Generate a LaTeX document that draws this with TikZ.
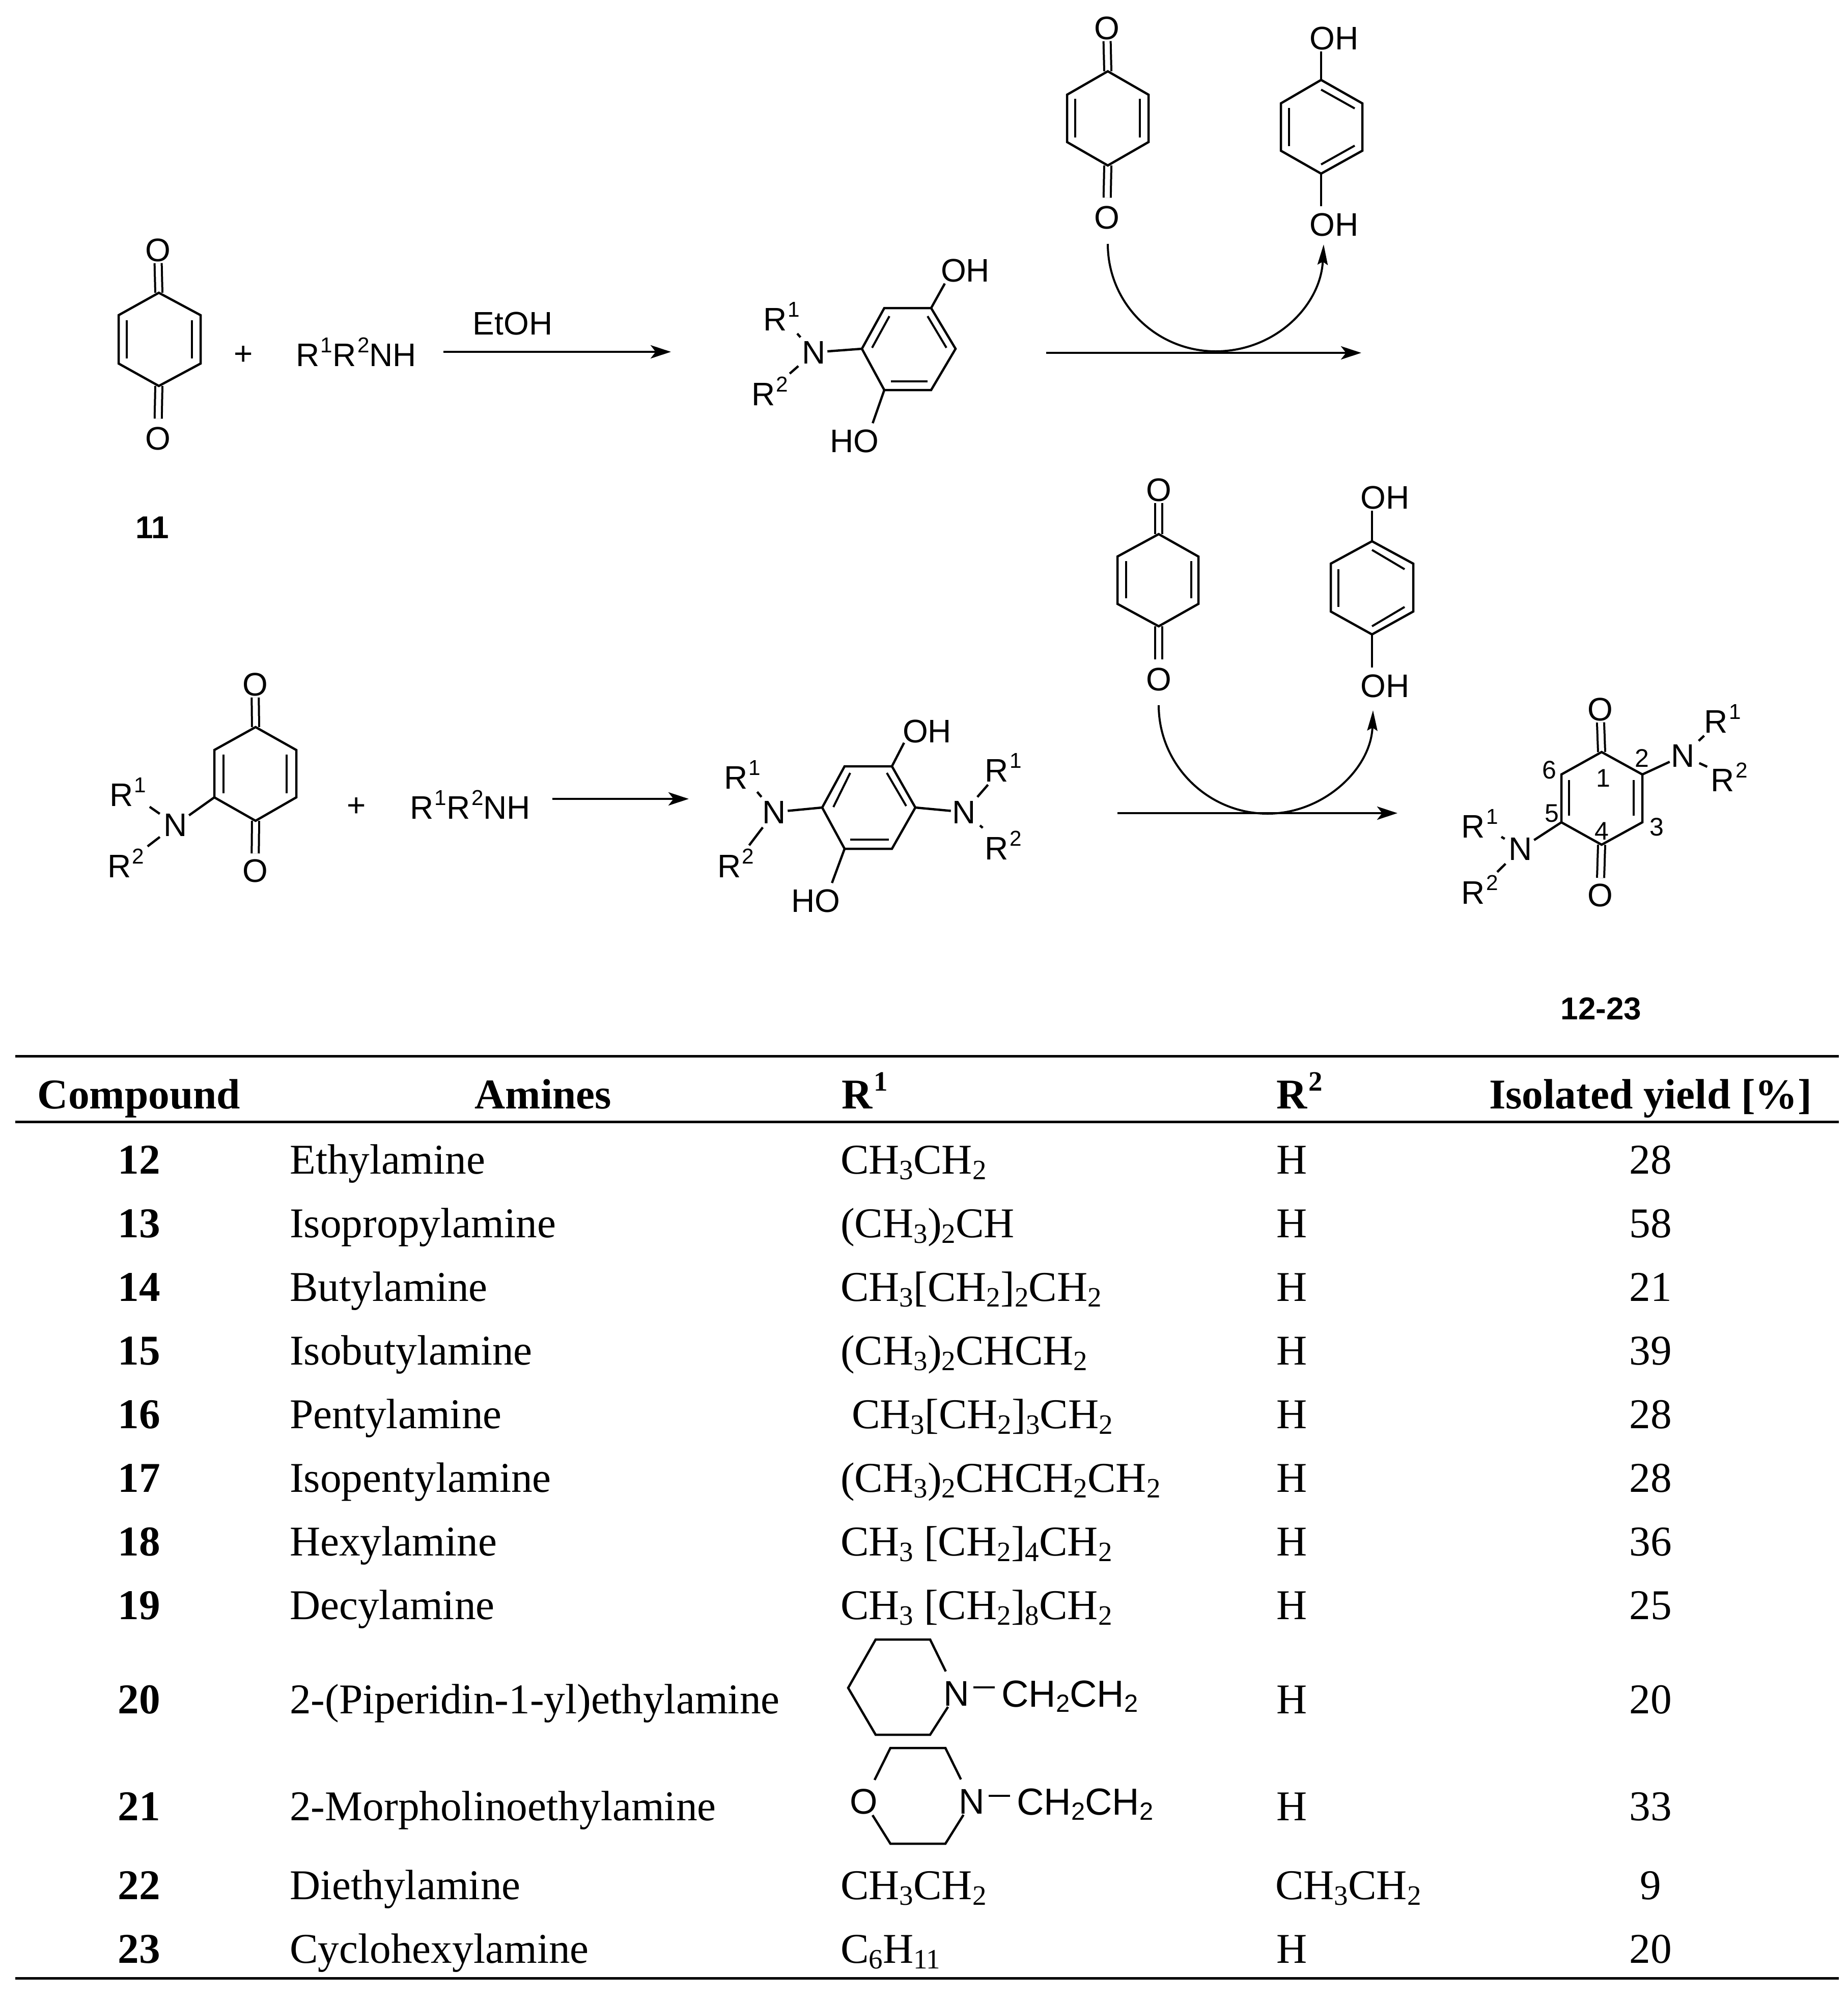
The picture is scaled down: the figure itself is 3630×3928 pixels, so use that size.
\documentclass[tikz,border=0pt]{standalone}
\usepackage{fontspec}
\setmainfont{Liberation Serif}
\setsansfont{Liberation Sans}
\usetikzlibrary{arrows.meta}
\makeatletter
\newcommand{\lo}[1]{\raisebox{-0.14em}{\fontsize{\strip@pt\dimexpr0.66\dimexpr\f@size pt\relax\relax}{1}\selectfont #1}}
\newcommand{\hi}[1]{\kern.04em\raisebox{.42em}{\fontsize{\strip@pt\dimexpr0.66\dimexpr\f@size pt\relax\relax}{1}\selectfont #1}}
\makeatother

\begin{document}
\begin{tikzpicture}[x=1pt,y=-1pt,
    bond/.style={line width=4.5pt},
    rbond/.style={bond,shorten <=6pt,shorten >=4pt},
    inner/.style={line width=4pt},
    dbond/.style={line width=4pt,double,double distance=10pt},
    rxn/.style={line width=4.5pt,-{Stealth[length=40pt,width=26pt,inset=10pt]}},
    swing/.style={line width=4pt,-{Stealth[length=40pt,width=20pt,inset=6pt]}},
    rule/.style={line width=5pt},
    lab/.style={font=\sffamily\fontsize{64}{70}\selectfont,inner sep=3pt},
    rlab/.style={lab,anchor=base west},
    locant/.style={font=\sffamily\fontsize{50}{56}\selectfont,inner sep=0pt},
    num/.style={font=\sffamily\bfseries\fontsize{62}{66}\selectfont,inner sep=0pt},
    big/.style={font=\sffamily\fontsize{70}{78}\selectfont,inner sep=2pt},
    sub/.style={font=\sffamily\fontsize{74}{78}\selectfont,anchor=base west,inner sep=0pt},
    tabl/.style={font=\fontsize{83.3}{90}\selectfont,anchor=base west,inner sep=0pt},
    tabc/.style={font=\fontsize{83.3}{90}\selectfont,anchor=base,inner sep=0pt},
    tabh/.style={font=\bfseries\fontsize{83.3}{90}\selectfont,anchor=base,inner sep=0pt}]
  \useasboundingbox (0,0) rectangle (3630,3928);

  \node[lab] (O1) at (310,491) {O};
  \node[lab] (O2) at (310,861) {O};
  \coordinate (A1) at (312,575);
  \coordinate (A4) at (312,758);
  \draw[dbond] (O1) -- (A1);
  \draw[dbond,shorten <=13pt] (O2) -- (A4);
  \draw[bond] (A1) -- (394,619) -- (394,714) -- (A4) -- (233,714) -- (233,619) -- cycle;
  \draw[inner] (249,629) -- (249,704);
  \draw[inner] (377,629) -- (377,704);
  \node[lab] (plus1) at (478,698) {+};
  \node[rlab] (amine1) at (578,719) {R\hi{1}R\hi{2}NH};
  \node[num] (cpd11) at (299,1036) {11};
  \coordinate (S1) at (871,691);
  \coordinate (E1) at (1318,691);
  \draw[rxn] (S1) -- (E1);
  \node[lab] (etoh) at (1007,635) {EtOH};

  \node[lab] (N1) at (1599,692) {N};
  \node[rlab] (R11) at (1496,649) {R\hi{1}};
  \node[rlab] (R12) at (1473,796) {R\hi{2}};
  \node[lab] (OH1) at (1896,531) {OH};
  \node[lab] (HO1) at (1678,866) {HO};
  \coordinate (B1) at (1693,685);
  \coordinate (B2) at (1737,605);
  \coordinate (B3) at (1829,605);
  \coordinate (B4) at (1877,685);
  \coordinate (B5) at (1829,766);
  \coordinate (B6) at (1737,766);
  \draw[bond] (B1) -- (B2) -- (B3) -- (B4) -- (B5) -- (B6) -- cycle;
  \draw[inner] (1713,683) -- (1747,621);
  \draw[inner] (1822,621) -- (1859,683);
  \draw[inner] (1750,749) -- (1822,749);
  \draw[bond] (N1) -- (B1);
  \draw[rbond] (N1) -- (R11);
  \draw[rbond] (N1) -- (R12);
  \draw[bond] (B3) -- ([xshift=11pt]OH1.south west);
  \draw[bond] (B6) -- ([xshift=-15pt,yshift=9pt]HO1.north east);

  \node[lab] (O3) at (2174,55) {O};
  \node[lab] (O4) at (2174,427) {O};
  \coordinate (C1) at (2176,140);
  \coordinate (C4) at (2176,325);
  \draw[dbond] (O3) -- (C1);
  \draw[dbond,shorten <=13pt] (O4) -- (C4);
  \draw[bond] (C1) -- (2256,186) -- (2256,279) -- (C4) -- (2096,279) -- (2096,186) -- cycle;
  \draw[inner] (2112,194) -- (2112,270);
  \draw[inner] (2239,194) -- (2239,270);

  \node[lab,anchor=west] (OH2) at (2569,75) {OH};
  \node[lab,anchor=west] (OH3) at (2569,441) {OH};
  \coordinate (D1) at (2595,157);
  \coordinate (D4) at (2595,341);
  \draw[bond] (D1) -- (2676,203) -- (2676,296) -- (D4) -- (2516,296) -- (2516,203) -- cycle;
  \draw[inner] (2595,176) -- (2661,213);
  \draw[inner] (2595,323) -- (2661,286);
  \draw[inner] (2532,212) -- (2532,287);
  \draw[bond] (D1) -- (D1 |- OH2.south);
  \draw[bond,shorten >=10pt] (D4) -- (D4 |- OH3.north);

  \coordinate (S2) at (2055,693);
  \coordinate (E2) at (2674,693);
  \draw[rxn] (S2) -- (E2);
  \coordinate (T1) at (2176,479);
  \coordinate (T2) at (2388,690);
  \coordinate (T3) at (2600,480);
  \draw[swing] (T1) .. controls (2176,596) and (2271,690) .. (T2) .. controls (2505,690) and (2594,600) .. (T3);

  \node[lab] (O5) at (501,1344) {O};
  \node[lab] (O6) at (501,1710) {O};
  \coordinate (F1) at (502,1428);
  \coordinate (F4) at (502,1612);
  \draw[dbond] (O5) -- (F1);
  \draw[dbond,shorten <=8pt] (O6) -- (F4);
  \coordinate (F5) at (421,1566);
  \draw[bond] (F1) -- (582,1473) -- (582,1566) -- (F4) -- (F5) -- (421,1473) -- cycle;
  \draw[inner] (439,1482) -- (439,1558);
  \draw[inner] (563,1482) -- (563,1558);
  \node[lab] (N2) at (345,1620) {N};
  \node[rlab] (R21) at (212,1583) {R\hi{1}};
  \node[rlab] (R22) at (208,1723) {R\hi{2}};
  \draw[bond] (N2) -- (F5);
  \draw[rbond] (N2) -- (R21);
  \draw[rbond] (N2) -- (R22);
  \node[lab] (plus2) at (700,1585) {+};
  \node[rlab] (amine2) at (802,1608) {R\hi{1}R\hi{2}NH};
  \coordinate (S3) at (1085,1569);
  \coordinate (E3) at (1353,1569);
  \draw[rxn] (S3) -- (E3);

  \node[lab] (N3) at (1521,1595) {N};
  \node[lab] (N4) at (1894,1595) {N};
  \node[rlab] (R31) at (1419,1549) {R\hi{1}};
  \node[rlab] (R32) at (1406,1723) {R\hi{2}};
  \node[rlab] (R41) at (1931,1535) {R\hi{1}};
  \node[rlab] (R42) at (1931,1688) {R\hi{2}};
  \node[lab] (OH4) at (1821,1436) {OH};
  \node[lab] (HO2) at (1602,1769) {HO};
  \coordinate (G1) at (1659,1505);
  \coordinate (G2) at (1752,1505);
  \coordinate (G3) at (1798,1586);
  \coordinate (G4) at (1752,1667);
  \coordinate (G5) at (1659,1667);
  \coordinate (G6) at (1615,1586);
  \draw[bond] (G1) -- (G2) -- (G3) -- (G4) -- (G5) -- (G6) -- cycle;
  \draw[inner] (1637,1585) -- (1670,1518);
  \draw[inner] (1742,1518) -- (1780,1583);
  \draw[inner] (1670,1649) -- (1746,1649);
  \draw[bond] (N3) -- (G6);
  \draw[bond] (N4) -- (G3);
  \draw[rbond] (N3) -- (R31);
  \draw[rbond] (N3) -- (R32);
  \draw[rbond] (N4) -- (R41);
  \draw[rbond] (N4) -- (R42);
  \draw[bond] (G2) -- ([xshift=6pt,yshift=3pt]OH4.south west);
  \draw[bond] (G5) -- ([xshift=-19pt,yshift=9pt]HO2.north east);

  \node[lab] (O7) at (2276,962) {O};
  \node[lab] (O8) at (2276,1334) {O};
  \coordinate (J1) at (2276,1049);
  \coordinate (J4) at (2276,1230);
  \draw[dbond] (O7) -- (J1);
  \draw[dbond,shorten <=13pt] (O8) -- (J4);
  \draw[bond] (J1) -- (2354,1093) -- (2354,1186) -- (J4) -- (2195,1186) -- (2195,1093) -- cycle;
  \draw[inner] (2212,1102) -- (2212,1175);
  \draw[inner] (2340,1102) -- (2340,1175);

  \node[lab,anchor=west] (OH5) at (2669,977) {OH};
  \node[lab,anchor=west] (OH6) at (2669,1347) {OH};
  \coordinate (K1) at (2695,1063);
  \coordinate (K4) at (2695,1246);
  \draw[bond] (K1) -- (2776,1107) -- (2776,1201) -- (K4) -- (2614,1201) -- (2614,1107) -- cycle;
  \draw[inner] (2695,1080) -- (2759,1118);
  \draw[inner] (2695,1230) -- (2759,1192);
  \draw[inner] (2629,1118) -- (2629,1192);
  \draw[bond] (K1) -- (K1 |- OH5.south);
  \draw[bond,shorten >=10pt] (K4) -- (K4 |- OH6.north);

  \coordinate (S4) at (2195,1597);
  \coordinate (E4) at (2745,1597);
  \draw[rxn] (S4) -- (E4);
  \coordinate (U1) at (2276,1385);
  \coordinate (U2) at (2490,1598);
  \coordinate (U3) at (2697,1395);
  \draw[swing] (U1) .. controls (2276,1502) and (2372,1598) .. (U2) .. controls (2600,1598) and (2693,1510) .. (U3);

  \node[lab] (O9) at (3143,1393) {O};
  \node[lab] (O10) at (3143,1758) {O};
  \coordinate (M1) at (3146,1477);
  \coordinate (M2) at (3226,1521);
  \coordinate (M3) at (3226,1615);
  \coordinate (M4) at (3146,1659);
  \coordinate (M5) at (3067,1615);
  \coordinate (M6) at (3067,1521);
  \draw[dbond] (O9) -- (M1);
  \draw[dbond,shorten <=8pt] (O10) -- (M4);
  \draw[bond] (M1) -- (M2) -- (M3) -- (M4) -- (M5) -- (M6) -- cycle;
  \draw[inner] (3082,1532) -- (3082,1602);
  \draw[inner] (3209,1532) -- (3209,1602);
  \node[lab] (N5) at (3306,1484) {N};
  \node[lab] (N6) at (2987,1667) {N};
  \node[rlab] (R51) at (3344,1439) {R\hi{1}};
  \node[rlab] (R52) at (3357,1554) {R\hi{2}};
  \node[rlab] (R61) at (2867,1645) {R\hi{1}};
  \node[rlab] (R62) at (2867,1775) {R\hi{2}};
  \draw[bond] (N5) -- (M2);
  \draw[bond] (N6) -- (M5);
  \draw[rbond] (N5) -- (R51);
  \draw[rbond] (N5) -- (R52);
  \draw[rbond] (N6) -- (R61);
  \draw[rbond] (N6) -- (R62);
  \node[locant] (p1) at (3149,1528) {1};
  \node[locant] (p2) at (3225,1489) {2};
  \node[locant] (p3) at (3254,1624) {3};
  \node[locant] (p4) at (3146,1632) {4};
  \node[locant] (p5) at (3048,1598) {5};
  \node[locant] (p6) at (3043,1512) {6};
  \node[num] (cpd12) at (3145,1981) {12-23};

  \coordinate (L1) at (30,2074);
  \coordinate (L2) at (3612,2074);
  \coordinate (L3) at (30,2203);
  \coordinate (L4) at (3612,2203);
  \coordinate (L5) at (30,3885);
  \coordinate (L6) at (3612,3885);
  \draw[rule] (L1) -- (L2);
  \draw[rule] (L3) -- (L4);
  \draw[rule] (L5) -- (L6);

  \node[tabh] (hC) at (273,2177) {Compound};
  \node[tabh] (hA) at (1067,2177) {Amines};
  \node[tabh,anchor=base west] (hP) at (1653,2177) {R\hi{1}};
  \node[tabh,anchor=base west] (hQ) at (2507,2177) {R\hi{2}};
  \node[tabh] (hY) at (3242,2177) {Isolated yield [\%]};

  \node[tabh] (c12) at (273,2305) {12};
  \node[tabl] (a12) at (569,2305) {Ethylamine};
  \node[tabl] (r12) at (1651,2305) {CH\lo{3}CH\lo{2}};
  \node[tabl] (q12) at (2507,2305) {H};
  \node[tabc] (y12) at (3242,2305) {28};

  \node[tabh] (c13) at (273,2430) {13};
  \node[tabl] (a13) at (569,2430) {Isopropylamine};
  \node[tabl] (r13) at (1651,2430) {(CH\lo{3})\lo{2}CH};
  \node[tabl] (q13) at (2507,2430) {H};
  \node[tabc] (y13) at (3242,2430) {58};

  \node[tabh] (c14) at (273,2555) {14};
  \node[tabl] (a14) at (569,2555) {Butylamine};
  \node[tabl] (r14) at (1651,2555) {CH\lo{3}[CH\lo{2}]\lo{2}CH\lo{2}};
  \node[tabl] (q14) at (2507,2555) {H};
  \node[tabc] (y14) at (3242,2555) {21};

  \node[tabh] (c15) at (273,2680) {15};
  \node[tabl] (a15) at (569,2680) {Isobutylamine};
  \node[tabl] (r15) at (1651,2680) {(CH\lo{3})\lo{2}CHCH\lo{2}};
  \node[tabl] (q15) at (2507,2680) {H};
  \node[tabc] (y15) at (3242,2680) {39};

  \node[tabh] (c16) at (273,2805) {16};
  \node[tabl] (a16) at (569,2805) {Pentylamine};
  \node[tabl] (r16) at (1673,2805) {CH\lo{3}[CH\lo{2}]\lo{3}CH\lo{2}};
  \node[tabl] (q16) at (2507,2805) {H};
  \node[tabc] (y16) at (3242,2805) {28};

  \node[tabh] (c17) at (273,2930) {17};
  \node[tabl] (a17) at (569,2930) {Isopentylamine};
  \node[tabl] (r17) at (1651,2930) {(CH\lo{3})\lo{2}CHCH\lo{2}CH\lo{2}};
  \node[tabl] (q17) at (2507,2930) {H};
  \node[tabc] (y17) at (3242,2930) {28};

  \node[tabh] (c18) at (273,3055) {18};
  \node[tabl] (a18) at (569,3055) {Hexylamine};
  \node[tabl] (r18) at (1651,3055) {CH\lo{3} [CH\lo{2}]\lo{4}CH\lo{2}};
  \node[tabl] (q18) at (2507,3055) {H};
  \node[tabc] (y18) at (3242,3055) {36};

  \node[tabh] (c19) at (273,3180) {19};
  \node[tabl] (a19) at (569,3180) {Decylamine};
  \node[tabl] (r19) at (1651,3180) {CH\lo{3} [CH\lo{2}]\lo{8}CH\lo{2}};
  \node[tabl] (q19) at (2507,3180) {H};
  \node[tabc] (y19) at (3242,3180) {25};

  \node[tabh] (c20) at (273,3365) {20};
  \node[tabl] (a20) at (569,3365) {2-(Piperidin-1-yl)ethylamine};
  \node[big] (N20) at (1879,3326) {N};
  \node[sub] (e20) at (1967,3352) {CH\lo{2}CH\lo{2}};
  \coordinate (P1) at (1827,3220);
  \coordinate (P2) at (1720,3220);
  \coordinate (P3) at (1666,3315);
  \coordinate (P4) at (1720,3407);
  \coordinate (P5) at (1827,3407);
  \draw[bond,shorten <=19pt] (N20) -- (P1) -- (P2) -- (P3) -- (P4) -- (P5) -- (N20);
  \draw[bond,shorten <=6pt,shorten >=13pt] ([yshift=12pt]N20.east) -- ([yshift=12pt]N20.east -| e20.west);
  \node[tabl] (q20) at (2507,3365) {H};
  \node[tabc] (y20) at (3242,3365) {20};

  \node[tabh] (c21) at (273,3575) {21};
  \node[tabl] (a21) at (569,3575) {2-Morpholinoethylamine};
  \node[big] (N21) at (1909,3538) {N};
  \node[big] (O21) at (1697,3538) {O};
  \node[sub] (e21) at (1997,3564) {CH\lo{2}CH\lo{2}};
  \coordinate (W1) at (1857,3433);
  \coordinate (W2) at (1749,3433);
  \coordinate (W3) at (1749,3621);
  \coordinate (W4) at (1857,3621);
  \draw[bond,shorten <=19pt,shorten >=17pt] (N21) -- (W1) -- (W2) -- (O21);
  \draw[bond] (O21) -- (W3) -- (W4) -- (N21);
  \draw[bond,shorten <=6pt,shorten >=13pt] ([yshift=11pt]N21.east) -- ([yshift=11pt]N21.east -| e21.west);
  \node[tabl] (q21) at (2507,3575) {H};
  \node[tabc] (y21) at (3242,3575) {33};

  \node[tabh] (c22) at (273,3730) {22};
  \node[tabl] (a22) at (569,3730) {Diethylamine};
  \node[tabl] (r22) at (1651,3730) {CH\lo{3}CH\lo{2}};
  \node[tabl] (q22) at (2505,3730) {CH\lo{3}CH\lo{2}};
  \node[tabc] (y22) at (3242,3730) {9};

  \node[tabh] (c23) at (273,3855) {23};
  \node[tabl] (a23) at (569,3855) {Cyclohexylamine};
  \node[tabl] (r23) at (1651,3855) {C\lo{6}H\lo{11}};
  \node[tabl] (q23) at (2507,3855) {H};
  \node[tabc] (y23) at (3242,3855) {20};
\end{tikzpicture}
\end{document}
